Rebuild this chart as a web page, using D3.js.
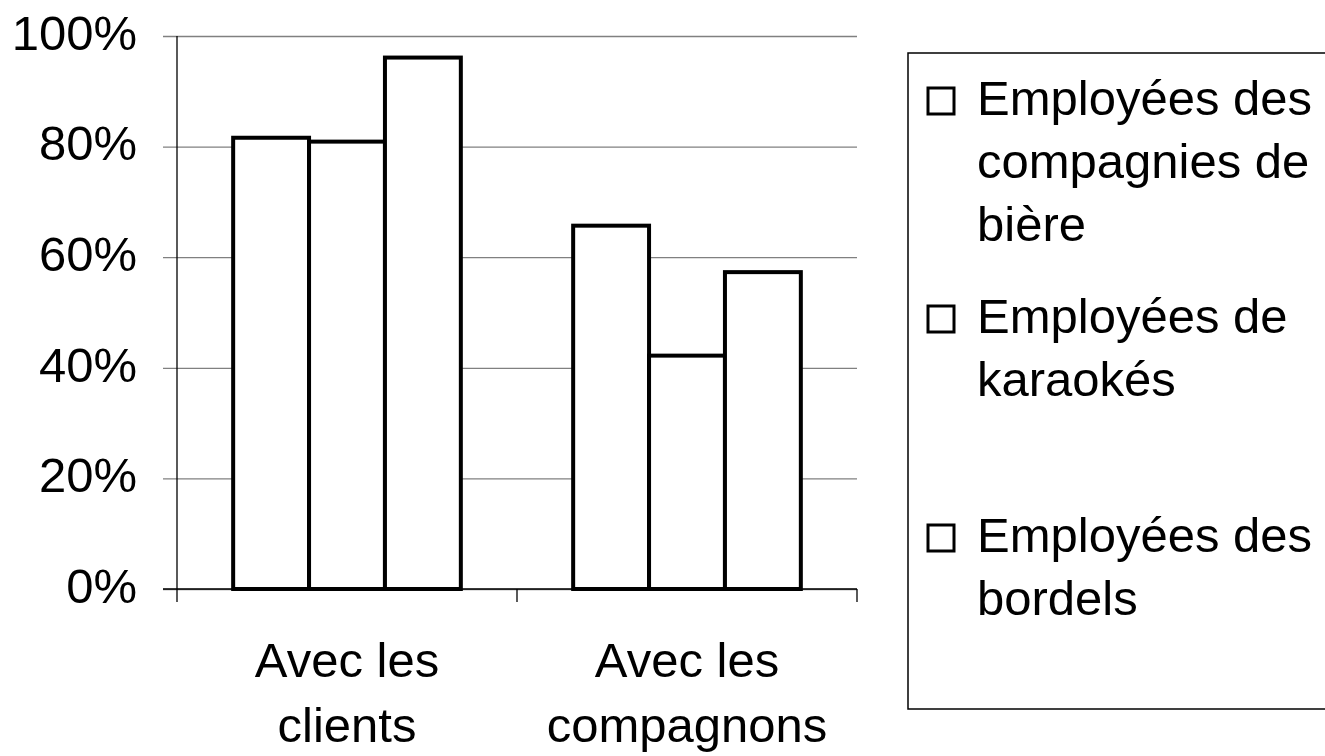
<!DOCTYPE html>
<html>
<head>
<meta charset="utf-8">
<script src="https://cdn.jsdelivr.net/npm/d3@7"></script>
<style>
  body { margin: 0; background: #fff; }
  text { font-family: "Liberation Sans", Arial, sans-serif; fill: #000; }
</style>
</head>
<body>
<div id="chart"></div>
<script>
// data
var categories = ["Avec les clients", "Avec les compagnons"]
var categoryLines = [["Avec les", "clients"], ["Avec les", "compagnons"]]
var series = ["Employées des compagnies de bière", "Employées de karaokés", "Employées des bordels"]
var legendLines = [["Employées des", "compagnies de", "bière"], ["Employées de", "karaokés"], ["Employées des", "bordels"]]
var biere = [81.6, 65.7]
var karaokes = [80.9, 42.2]
var bordels = [96.1, 57.3]
var yTicks = [0, 20, 40, 60, 80, 100]

var values = [biere, karaokes, bordels]

var W = 1325, H = 756
var plotLeft = 177, plotRight = 857, plotTop = 36, plotBottom = 589
var fontSize = 49

var svg = d3.select("#chart").append("svg")
    .attr("width", W)
    .attr("height", H)

var y = d3.scaleLinear().domain([0, 100]).range([plotBottom, plotTop])
var x0 = d3.scaleBand().domain(categories).range([plotLeft, plotRight]).padding(0)
var x1 = d3.scaleBand().domain(series).range([0, x0.bandwidth()]).paddingInner(0).paddingOuter(0.74)

// gridlines + y labels
var yAxis = svg.append("g")
    .attr("transform", "translate(163,0)")
    .call(d3.axisLeft(y).tickValues(yTicks).tickSize(-(plotRight - 163)).tickPadding(26)
      .tickFormat(function(d) { return d + "%" }))
yAxis.select(".domain").remove()
yAxis.selectAll("line").attr("stroke", "#808080").attr("stroke-width", 1.3)
yAxis.selectAll("text")
    .attr("dy", "0.27em")
    .attr("fill", "#000")
    .style("font-size", fontSize + "px")
    .style("font-family", "'Liberation Sans', Arial, sans-serif")

// bars
var groups = svg.selectAll("g.grp")
    .data(categories)
    .enter().append("g")
    .attr("class", "grp")
    .attr("transform", function(c) { return "translate(" + x0(c) + ",0)" })

groups.selectAll("rect")
    .data(function(c, ci) { return series.map(function(s, si) { return {s: s, v: values[si][ci]} }) })
    .enter().append("rect")
    .attr("x", function(d) { return x1(d.s) })
    .attr("y", function(d) { return y(d.v) })
    .attr("width", x1.bandwidth())
    .attr("height", function(d) { return y(0) - y(d.v) })
    .attr("fill", "#fff")
    .attr("stroke", "#000")
    .attr("stroke-width", 4)

// axes lines
svg.append("line")
    .attr("x1", plotLeft).attr("x2", plotLeft)
    .attr("y1", plotTop).attr("y2", plotBottom)
    .attr("stroke", "#000").attr("stroke-width", 1.3)
svg.append("line")
    .attr("x1", 163).attr("x2", plotRight)
    .attr("y1", plotBottom).attr("y2", plotBottom)
    .attr("stroke", "#000").attr("stroke-width", 1.3)

var tickXs = categories.map(function(c) { return x0(c) }).concat([x0.range()[1]])
svg.selectAll("line.xtick")
    .data(tickXs)
    .enter().append("line")
    .attr("class", "xtick")
    .attr("x1", function(d) { return d }).attr("x2", function(d) { return d })
    .attr("y1", plotBottom).attr("y2", plotBottom + 13)
    .attr("stroke", "#000").attr("stroke-width", 1.3)

// category labels
categories.forEach(function(c, i) {
  var t = svg.append("text")
      .attr("text-anchor", "middle")
      .style("font-size", fontSize + "px")
  categoryLines[i].forEach(function(line, j) {
    t.append("tspan")
      .attr("x", x0(c) + x0.bandwidth() / 2)
      .attr("y", 677 + j * 65)
      .text(line)
  })
})

// legend
svg.append("rect")
    .attr("x", 908).attr("y", 53)
    .attr("width", 460).attr("height", 656)
    .attr("fill", "none")
    .attr("stroke", "#000").attr("stroke-width", 1.5)

var legendY = [115, 333, 552]
series.forEach(function(s, i) {
  var by = legendY[i]
  svg.append("rect")
    .attr("x", 928).attr("y", by - 27)
    .attr("width", 26).attr("height", 26)
    .attr("fill", "#fff")
    .attr("stroke", "#000").attr("stroke-width", 3)
  var t = svg.append("text").style("font-size", fontSize + "px")
  legendLines[i].forEach(function(line, j) {
    t.append("tspan")
      .attr("x", 977)
      .attr("y", by + j * 63)
      .text(line)
  })
})
</script>
</body>
</html>
